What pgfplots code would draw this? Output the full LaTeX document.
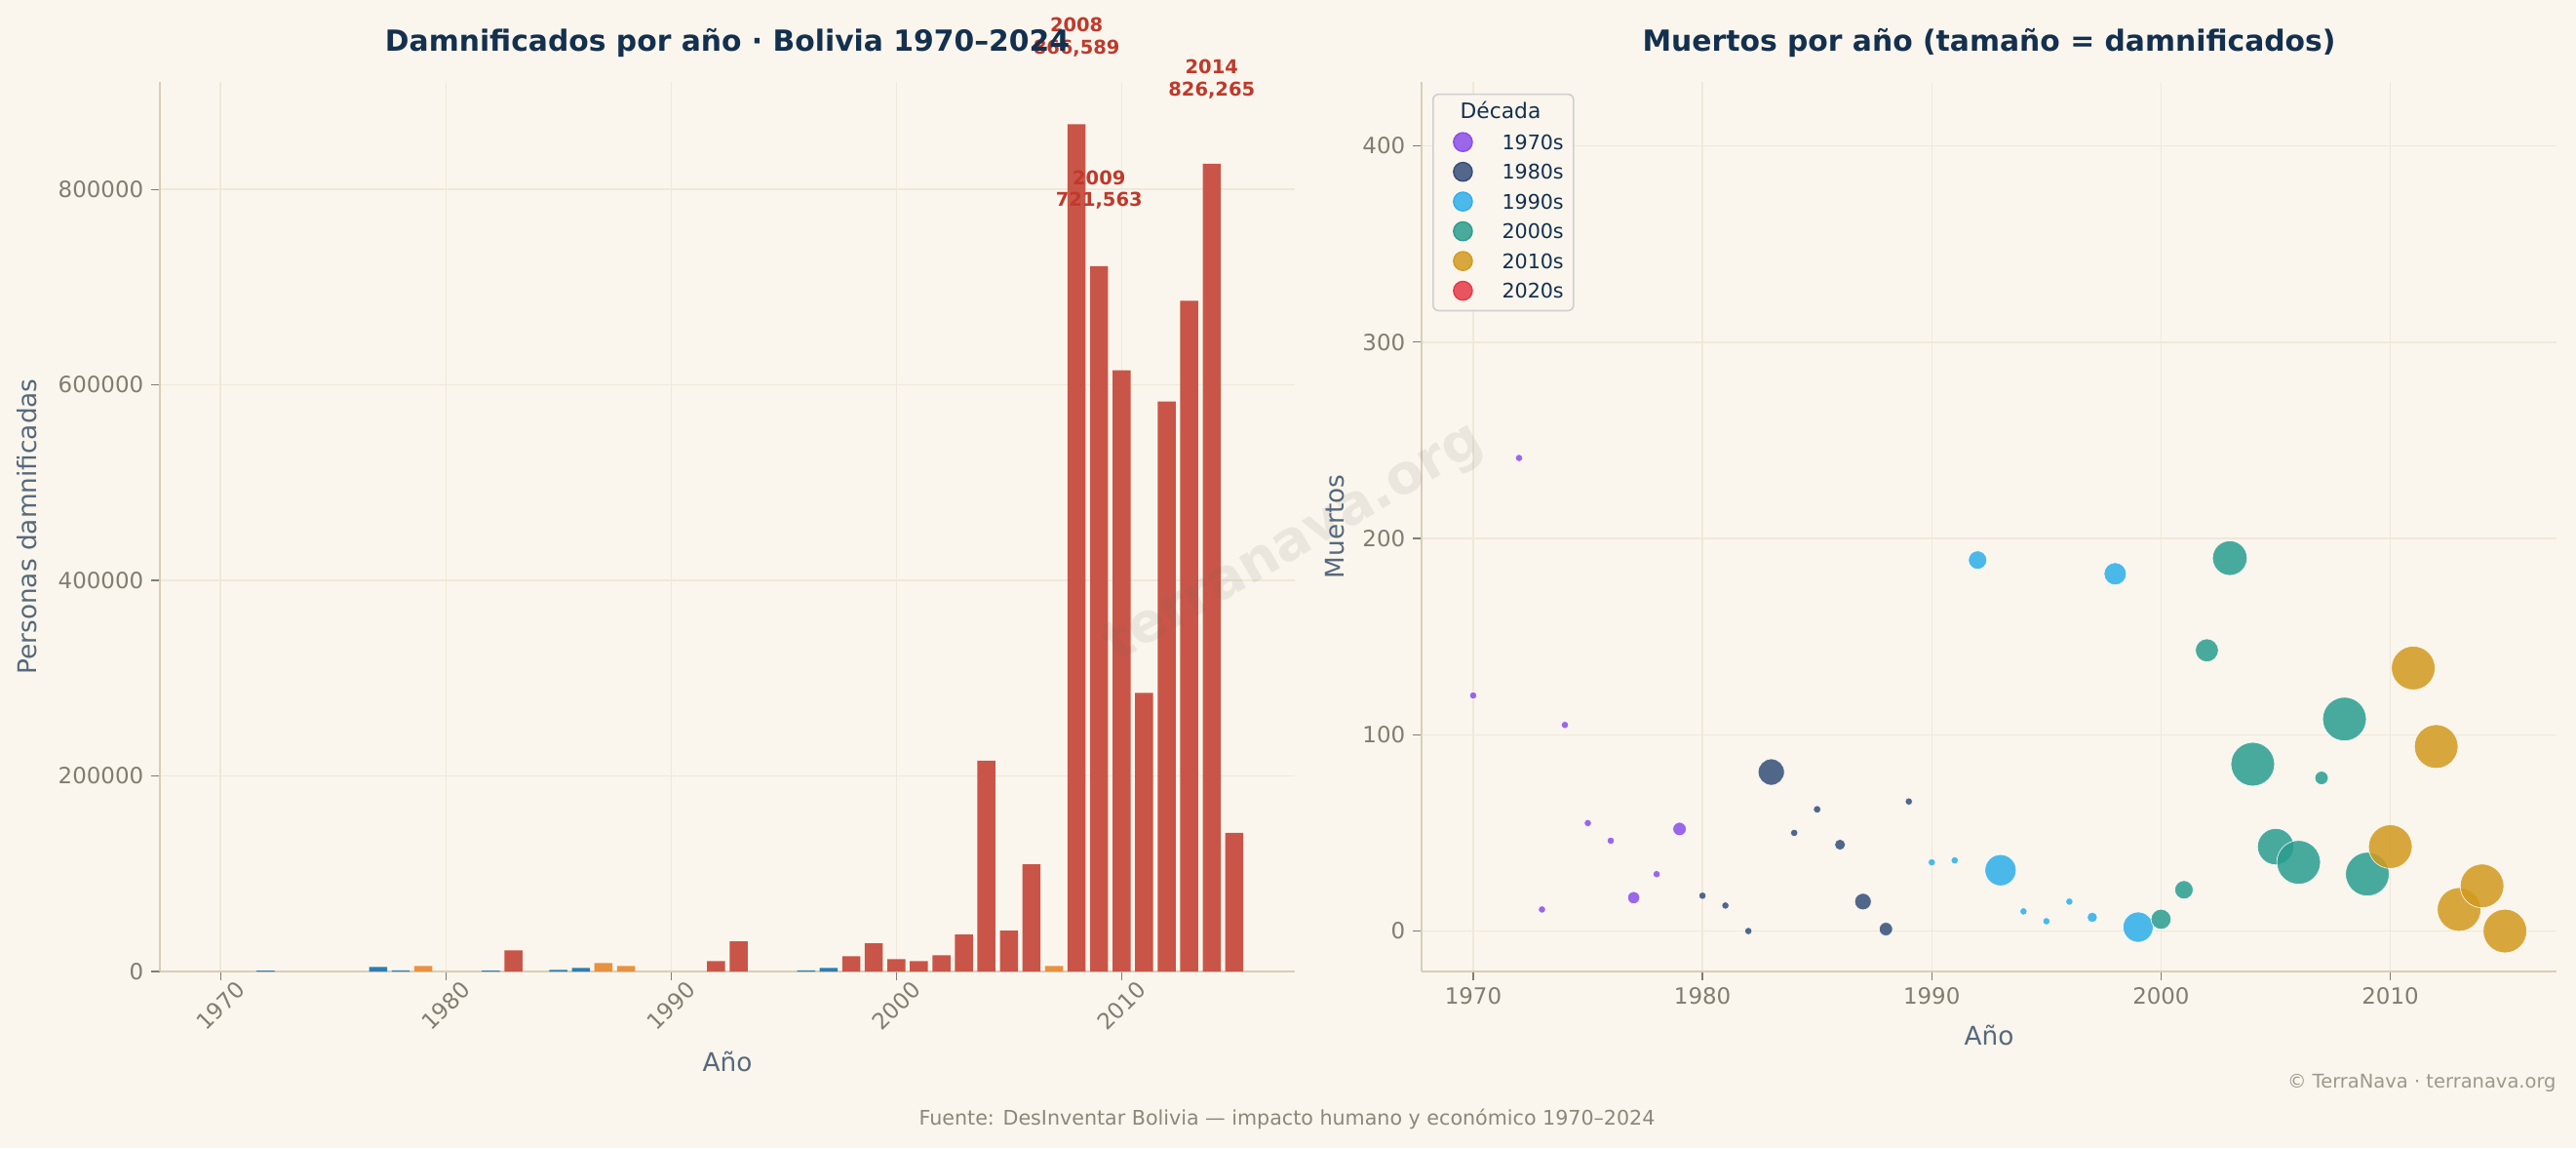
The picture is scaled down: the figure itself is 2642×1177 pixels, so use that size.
\documentclass[border=0pt]{standalone}
\usepackage{pgfplots}
\usepackage{pgfplotstable}
\pgfplotsset{compat=1.18}
\usepackage{fontspec}
\setmainfont{DejaVu Sans}

\definecolor{bg}{HTML}{FAF6ED}
\definecolor{gridc}{HTML}{F0E8D9}
\definecolor{spine}{HTML}{D8CDB7}
\definecolor{tickc}{HTML}{827D70}
\definecolor{labc}{HTML}{56697C}
\definecolor{titc}{HTML}{14304F}
\definecolor{annc}{HTML}{C0392B}
\definecolor{barred}{HTML}{C95548}
\definecolor{barora}{HTML}{E8913F}
\definecolor{barblu}{HTML}{2E7DB0}
\definecolor{c70}{HTML}{8A4DEA}
\definecolor{c80}{HTML}{344E78}
\definecolor{c90}{HTML}{2DAEEA}
\definecolor{c00}{HTML}{2A9D8F}
\definecolor{c10}{HTML}{D29A1F}
\definecolor{c20}{HTML}{E63946}
\definecolor{legfr}{HTML}{CFCFCF}
\definecolor{footc}{HTML}{8C877B}
\definecolor{wmc}{HTML}{606060}

% damnificados por año (barras), agrupadas por color
\pgfplotstableread{
year val
1972 800
1977 4700
1978 1000
1982 900
1985 1700
1986 3700
1996 1000
1997 3700
}\tblue
\pgfplotstableread{
year val
1979 5700
1987 8700
1988 5700
2007 5700
}\torange
\pgfplotstableread{
year val
1983 21700
1992 10700
1993 30700
1998 15700
1999 28700
2000 12700
2001 10700
2002 16700
2003 37700
2004 215700
2005 41700
2006 109700
2008 866589
2009 721563
2010 615000
2011 285000
2012 583000
2013 686000
2014 826265
2015 141700
}\tred

% muertos por año; r = radio del marcador (pt) segun damnificados
\pgfplotstableread{
x y r
1970 120 1.65
1972 241 1.65
1973 11 1.65
1974 105 1.65
1975 55 1.65
1976 46 1.65
1977 17 2.735
1978 29 1.65
1979 52 3.012
}\tseventies
\pgfplotstableread{
x y r
1980 18 1.65
1981 13 1.65
1982 0 1.65
1983 81 5.877
1984 50 1.65
1985 62 1.7
1986 44 2.427
1987 15 3.721
1988 1 3.012
1989 66 1.65
}\teighties
\pgfplotstableread{
x y r
1990 35 1.65
1991 36 1.65
1992 189 4.127
1993 31 6.99
1994 10 1.65
1995 5 1.65
1996 15 1.65
1997 7 2.3
1998 182 5.0
1999 2 6.76
}\tnineties
\pgfplotstableread{
x y r
2000 6 4.5
2001 21 4.127
2002 143 5.155
2003 190 7.746
2004 85 9.772
2005 43 8.147
2006 35 9.772
2007 78 3.012
2008 108 9.772
2009 29 9.772
}\tzeros
\pgfplotstableread{
x y r
2010 43 9.772
2011 134 9.772
2012 94 9.772
2013 11 9.772
2014 23 9.772
2015 0 9.772
}\ttens

\pgfplotsset{
  mybase/.style={
    scale only axis, width=507.92pt, height=397.96pt,
    axis x line*=bottom, axis y line*=left,
    axis line style={-, draw=spine, line width=0.75pt},
    x axis line style={-}, y axis line style={-},
    tick align=outside, major tick length=3.8pt,
    tick style={draw=tickc, line width=0.55pt},
    grid=major, major grid style={draw=gridc, line width=0.6pt},
    ticklabel style={font=\fontsize{10}{12}\selectfont, text=tickc},
    label style={font=\fontsize{11.5}{13}\selectfont, text=labc},
    /pgf/number format/assume math mode=true,
    clip=false,
  },
  bub/.style={forget plot, only marks, mark=*, scatter, point meta=y,
    scatter/use mapped color={draw=white, fill=#1, fill opacity=0.85, draw opacity=0.85, line width=0.3pt},
    visualization depends on={\thisrow{r}\as\rad},
    scatter/@pre marker code/.append style={/tikz/mark size=\rad}},
  legc/.style={legend image code/.code={\path (0pt,0pt) (17pt,0pt);
     \draw[fill=#1!85!bg, draw=#1, line width=0.6pt] (13pt,0.4pt) circle (4.2pt);}},
}

\begin{document}
\begin{tikzpicture}[x=0.43636pt,y=0.43636pt]
\fill[bg] (0,0) rectangle (2642,1177);

% ---------------- Panel izquierdo ----------------
\begin{axis}[mybase, at={(71.563pt,78.98pt)}, anchor=south west,
  xmin=1967.31, xmax=2017.69, ymin=0, ymax=909918,
  xtick={1970,1980,1990,2000,2010}, xticklabels={1970,1980,1990,2000,2010},
  ytick={0,200000,400000,600000,800000},
  yticklabels={0,200000,400000,600000,800000},
  scaled y ticks=false,
  xticklabel style={rotate=45, anchor=center, xshift=-8.17pt, yshift=-8.17pt},
  xlabel={Año}, ylabel={Personas damnificadas},
  xlabel style={at={(axis description cs:0.5,-0.1009)}, anchor=center},
  ylabel style={at={(axis description cs:-0.1168,0.5)}, anchor=center},
]
\addplot[ybar, bar width=0.8, bar shift=0pt, fill=barblu, draw=none] table[x=year,y=val]{\tblue};
\addplot[ybar, bar width=0.8, bar shift=0pt, fill=barora, draw=none] table[x=year,y=val]{\torange};
\addplot[ybar, bar width=0.8, bar shift=0pt, fill=barred, draw=none] table[x=year,y=val]{\tred};
\tikzset{ann/.style={font=\bfseries\fontsize{8.5}{9.8}\selectfont, text=annc, align=center, anchor=south, inner sep=0pt}}
\node[ann] at (axis cs:2008,935300) {2008\\866,589};
\node[ann] at (axis cs:2009,779300) {2009\\721,563};
\node[ann] at (axis cs:2014,892300) {2014\\826,265};
\end{axis}

% ---------------- Panel derecho ----------------
\begin{axis}[mybase, at={(636.21pt,78.98pt)}, anchor=south west,
  xmin=1967.75, xmax=2017.25, ymin=-20.6, ymax=432.6,
  xtick={1970,1980,1990,2000,2010}, xticklabels={1970,1980,1990,2000,2010},
  ytick={0,100,200,300,400}, yticklabels={0,100,200,300,400},
  xlabel={Año}, ylabel={Muertos},
  xlabel style={at={(axis description cs:0.5,-0.0713)}, anchor=center},
  ylabel style={at={(axis description cs:-0.0765,0.5)}, anchor=center},
  legend style={at={(0.00945,0.987)}, anchor=north west, draw=legfr, fill=bg,
    rounded corners=2.5pt, line width=0.7pt, inner xsep=0pt, inner ysep=3.6pt,
    row sep=3.5pt, font=\fontsize{9}{11}\selectfont, text=titc,
    nodes={inner sep=0pt, text height=7.8pt, text depth=2pt},
    /tikz/every odd column/.append style={column sep=13pt}},
  legend cell align=left,
]
\addplot[bub=c70] table[x=x,y=y]{\tseventies};
\addplot[bub=c80] table[x=x,y=y]{\teighties};
\addplot[bub=c90] table[x=x,y=y]{\tnineties};
\addplot[bub=c00] table[x=x,y=y]{\tzeros};
\addplot[bub=c10] table[x=x,y=y]{\ttens};
\addlegendimage{empty legend}\addlegendentry{}
\addlegendimage{legc=c70}\addlegendentry{1970s\hspace*{4.4pt}}
\addlegendimage{legc=c80}\addlegendentry{1980s\hspace*{4.4pt}}
\addlegendimage{legc=c90}\addlegendentry{1990s\hspace*{4.4pt}}
\addlegendimage{legc=c00}\addlegendentry{2000s\hspace*{4.4pt}}
\addlegendimage{legc=c10}\addlegendentry{2010s\hspace*{4.4pt}}
\addlegendimage{legc=c20}\addlegendentry{2020s\hspace*{4.4pt}}
\end{axis}

\node[font=\fontsize{9.5}{11}\selectfont, text=titc] at (1539,1064) {Década};

% watermark
\node[rotate=30, font=\bfseries\fontsize{24.5}{28}\selectfont, text=wmc, opacity=0.1] at (1328,619) {terranava.org};

% titles
\node[font=\bfseries\fontsize{13}{15}\selectfont, text=titc] at (746,1133) {Damnificados por año · Bolivia 1970–2024};
\node[font=\bfseries\fontsize{13}{15}\selectfont, text=titc] at (2040,1133) {Muertos por año (tamaño = damnificados)};

% footer
\node[font=\fontsize{9}{11}\selectfont, text=footc] at (1320,30) {Fuente: DesInventar Bolivia — impacto humano y económico 1970–2024};
\node[font=\fontsize{8.5}{10}\selectfont, text=footc!85!bg, anchor=east, inner sep=0pt] at (2622,67) {© TerraNava · terranava.org};

\pgfresetboundingbox
\useasboundingbox (0,0) rectangle (2642,1177);
\end{tikzpicture}
\end{document}
